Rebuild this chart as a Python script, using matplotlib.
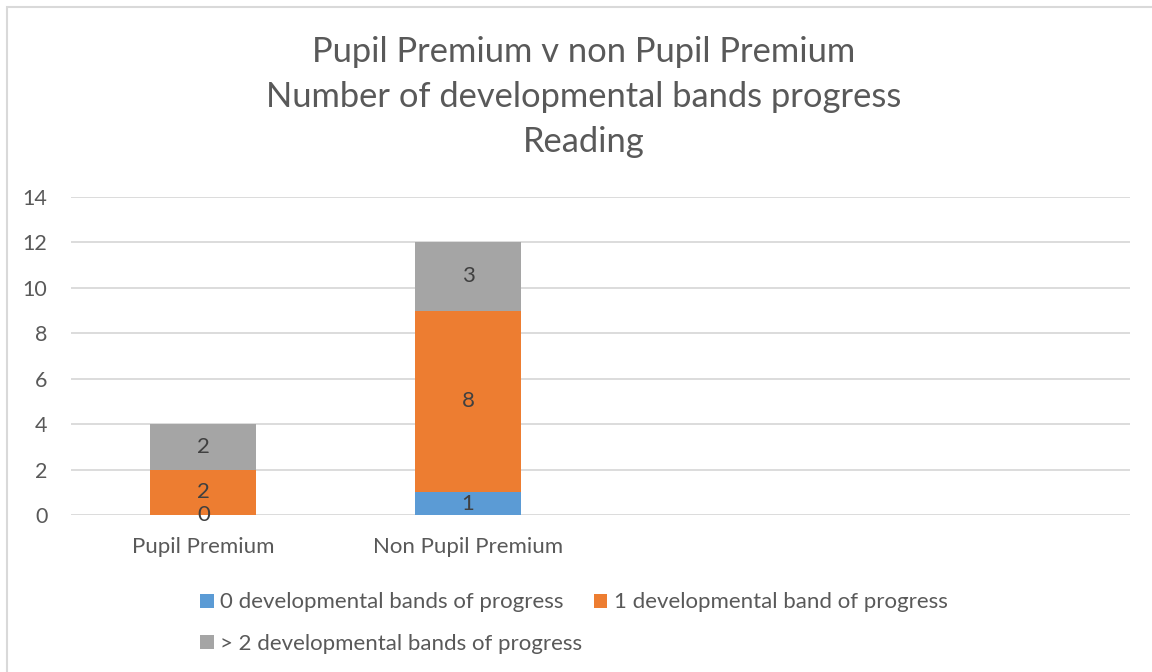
import matplotlib
matplotlib.use("Agg")
import matplotlib.pyplot as plt
from matplotlib.patches import Rectangle
import numpy as np

categories = ["Pupil Premium", "Non Pupil Premium"]
series_names = ["0 developmental bands of progress",
                "1 developmental band of progress",
                "> 2 developmental bands of progress"]
zero_bands = [0, 1]
one_band = [2, 8]
two_plus_bands = [2, 3]
colors = ["#5B9BD5", "#ED7D31", "#A5A5A5"]
title_lines = ["Pupil Premium v non Pupil Premium",
               "Number of developmental bands progress",
               "Reading"]
yticks = [0, 2, 4, 6, 8, 10, 12, 14]

plt.rcParams['font.family'] = ['Lato', 'DejaVu Sans']
text_col = "#595959"

fig = plt.figure(figsize=(11.52, 6.72), dpi=100)
fig.patches.append(Rectangle((7/1152, -0.1), 1.2, 1 - 7/672 + 0.1,
                             transform=fig.transFigure, fill=False,
                             edgecolor="#D9D9D9", linewidth=1.5))
ax = fig.add_axes([71/1152, 1 - 515/672, (1130-71)/1152, (515-197)/672])

x = np.arange(len(categories))
w = 0.4
bottom = np.zeros(len(categories))
handles = []
for vals, name, c in zip([zero_bands, one_band, two_plus_bands], series_names, colors):
    b = ax.bar(x, vals, w, bottom=bottom, color=c, label=name, zorder=3)
    handles.append(b)
    bottom += np.array(vals)
for b, vals in zip(handles, [zero_bands, one_band, two_plus_bands]):
    txts = ax.bar_label(b, labels=[str(v) for v in vals], label_type='center',
                        fontsize=16, color="#404040")
    for t in txts:
        t.set_zorder(6)

ax.set_xlim(-0.5, 3.5)
ax.set_ylim(0, 14)
ax.set_yticks(yticks)
ax.set_xticks(x)
ax.set_xticklabels(categories)
ax.yaxis.grid(True, color="#D9D9D9", linewidth=1.3, zorder=0)
ax.set_axisbelow(True)
for s in ax.spines.values():
    s.set_visible(False)
ax.tick_params(axis='both', length=0, labelsize=16, labelcolor=text_col)
ax.tick_params(axis='y', labelsize=15.5, pad=17)
ax.tick_params(axis='x', pad=16)

for i, line in enumerate(title_lines):
    fig.text(584/1152, 1 - (52 + 45*i)/672, line, ha='center', va='center',
             fontsize=24.8, color=text_col)

order = [0, 2, 1]
leg = fig.legend([handles[i] for i in order], [series_names[i] for i in order],
                 loc='center', bbox_to_anchor=(574/1152, 1 - 623/672), ncol=2,
                 frameon=False, fontsize=16, labelcolor=text_col,
                 handlelength=0.6, handleheight=0.6, handletextpad=0.3,
                 columnspacing=0.5, labelspacing=0.95)

fig.savefig("out.png", dpi=100)
